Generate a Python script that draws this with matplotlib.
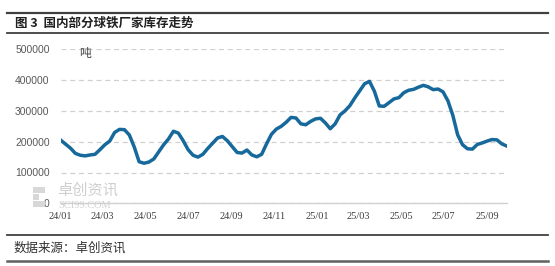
import pandas as pd
import matplotlib
matplotlib.use('Agg')
import matplotlib.pyplot as plt
from matplotlib.patches import Rectangle

plt.rcParams['font.family'] = ['Noto Sans CJK SC', 'DejaVu Sans']

# weekly inventory (tonnes)
start_date = '2024-01-04'
inventory = [205000, 192000, 179000, 162000, 156000, 154000, 157000, 159000, 174000, 190000,
             202000, 230000, 240000, 239000, 222000, 183000, 135000, 130000, 134000, 144000,
             167000, 190000, 209000, 234000, 228000, 203000, 174000, 156000, 150000, 159000,
             178000, 195000, 212000, 217000, 203000, 184000, 165000, 163000, 173000, 157000,
             151000, 159000, 193000, 224000, 241000, 250000, 263000, 279000, 277000, 258000,
             255000, 266000, 274000, 276000, 261000, 242000, 258000, 287000, 300000, 317000,
             342000, 365000, 388000, 396000, 364000, 316000, 315000, 327000, 339000, 343000,
             359000, 367000, 370000, 377000, 383000, 378000, 369000, 371000, 362000, 333000,
             286000, 222000, 190000, 177000, 176000, 191000, 196000, 202000, 207000, 206000,
             193000, 186000]
tick_labels = ['24/01', '24/03', '24/05', '24/07', '24/09', '24/11',
               '25/01', '25/03', '25/05', '25/07', '25/09']
y_ticks = [0, 100000, 200000, 300000, 400000, 500000]

dates = pd.date_range(start_date, periods=len(inventory), freq='7D')
tick_dates = pd.date_range(start_date, periods=len(tick_labels), freq=pd.DateOffset(months=2))

W, H = 555, 266
fig = plt.figure(figsize=(W / 100, H / 100), dpi=100)
ax = fig.add_axes([60.7 / W, 1 - 203.3 / H, 446 / W, 154 / H])

ax.plot(dates, inventory, color='#17699b', lw=2.5, solid_joinstyle='round')
ax.set_xlim(dates[0], dates[-1])
ax.set_ylim(0, 500000)
ax.set_yticks(y_ticks)
ax.set_yticklabels([str(v) for v in y_ticks], fontsize=7.5, color='#595959',
                   family=['Liberation Sans', 'DejaVu Sans'])
ax.set_xticks(tick_dates)
ax.set_xticklabels(tick_labels, fontsize=7.5, color='#404040',
                   family=['Liberation Serif', 'DejaVu Serif'])
ax.tick_params(length=0)
ax.tick_params(axis='y', pad=8)
ax.tick_params(axis='x', pad=6)
ax.grid(axis='y', color='#d0d0d0', ls=(0, (4, 3)), lw=0.9)
ax.set_axisbelow(True)
for s in ['top', 'right', 'left']:
    ax.spines[s].set_visible(False)
ax.spines['bottom'].set_color('#d0d0d0')
ax.spines['bottom'].set_linewidth(1)

# unit label
fig.text(79 / W, 1 - 53 / H, '吨', fontsize=8.5, color='#404040', va='center')

# header and footer rules
def hline(y, lw, color):
    fig.add_artist(plt.Line2D([7 / W, 548 / W], [1 - y / H, 1 - y / H],
                              color=color, lw=lw, transform=fig.transFigure))

hline(12.7, 1.6, '#404040')
hline(32.5, 1.3, '#404040')
hline(235, 1.3, '#404040')
hline(261, 1.8, '#606060')

fig.text(15 / W, 1 - 23 / H, '图 3  国内部分球铁厂家库存走势', fontsize=9,
         fontweight='bold', va='center', ha='left', color='#202020')
fig.text(14 / W, 1 - 248 / H, '数据来源：卓创资讯', fontsize=9,
         va='center', ha='left', color='#303030')

# watermark
for (x0, y0) in [(33, 187), (39, 187), (33, 194), (33, 201), (39, 201)]:
    fig.add_artist(Rectangle((x0 / W, 1 - (y0 + 6) / H), 5.5 / W, 6 / H,
                             transform=fig.transFigure, color='#d8d8d8', lw=0))
fig.text(57 / W, 1 - 190.5 / H, '卓创资讯', fontsize=11, color='#cfcfcf',
         va='center', ha='left')
fig.text(58 / W, 1 - 205.5 / H, 'SCI99.COM', fontsize=7.5, color='#d0d0d0',
         va='center', ha='left', family=['Liberation Serif', 'DejaVu Serif'])

fig.savefig('out.png', dpi=100)
